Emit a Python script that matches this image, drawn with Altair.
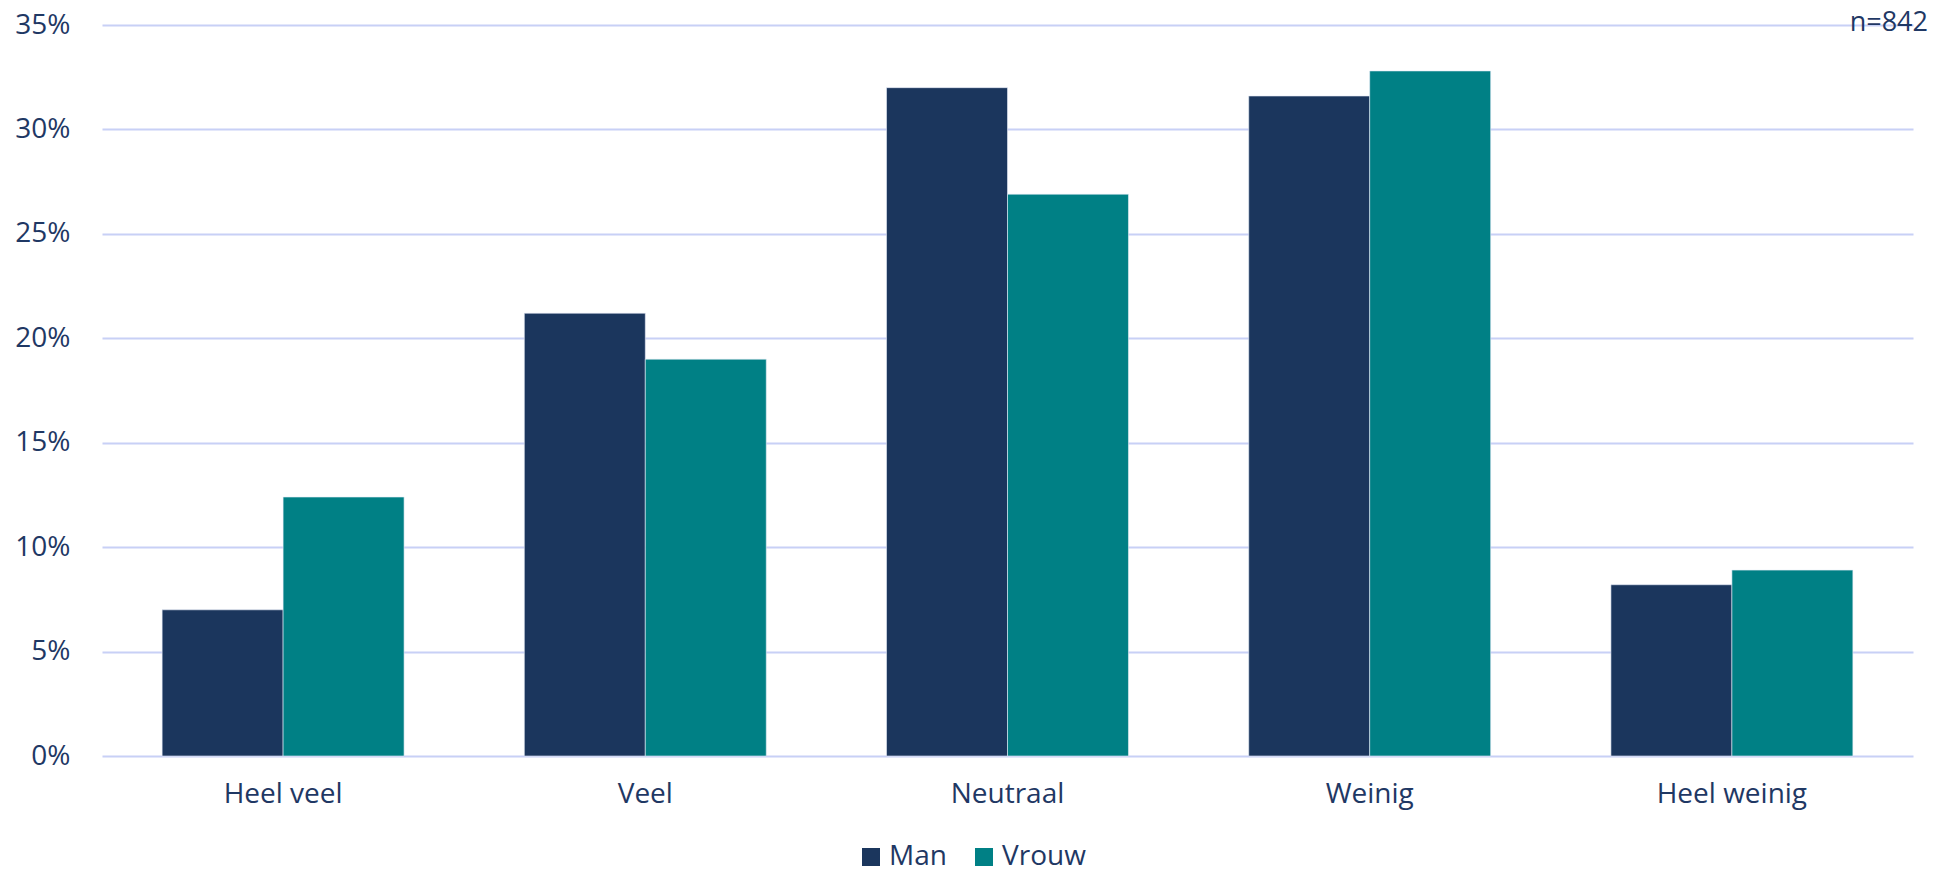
import altair as alt
import pandas as pd

categories = ["Heel veel", "Veel", "Neutraal", "Weinig", "Heel weinig"]
series = ["Man", "Vrouw"]
man = [7.0, 21.2, 32.0, 31.6, 8.2]
vrouw = [12.4, 19.0, 26.9, 32.8, 8.9]
colors = ["#1B365D", "#008085"]
y_ticks = [0, 5, 10, 15, 20, 25, 30, 35]
note = "n=842"

rows = []
for c, m, v in zip(categories, man, vrouw):
    rows.append({"cat": c, "serie": "Man", "val": m / 100})
    rows.append({"cat": c, "serie": "Vrouw", "val": v / 100})
df = pd.DataFrame(rows)

FONT = "Open Sans"
TXT = "#1F3864"
GRID = "#C8D0F6"

bars = alt.Chart(df).mark_bar(stroke="#E8ECF8", strokeWidth=0.6).encode(
    x=alt.X("cat:N", sort=categories, title=None,
            scale=alt.Scale(paddingInner=0.332, paddingOuter=0.166),
            axis=alt.Axis(labelAngle=0, domain=False, ticks=False, labelPadding=24,
                          labelFontSize=28, labelColor=TXT, labelFont=FONT, grid=False)),
    xOffset=alt.XOffset("serie:N", sort=series),
    y=alt.Y("val:Q", title=None,
            scale=alt.Scale(domain=[0, 0.35], nice=False),
            axis=alt.Axis(values=[t / 100 for t in y_ticks], format=".0%", domain=False,
                          ticks=False, labelPadding=32, labelFontSize=28, labelColor=TXT,
                          labelFont=FONT, gridColor=GRID, gridWidth=2)),
    color=alt.Color("serie:N", sort=series,
                    scale=alt.Scale(domain=series, range=colors),
                    legend=alt.Legend(title=None, orient="none", legendX=755, legendY=818,
                                      direction="horizontal", symbolType="square",
                                      symbolSize=324, symbolStrokeWidth=0, symbolOpacity=1,
                                      labelFontSize=28, labelFont=FONT, labelColor=TXT,
                                      labelOffset=4, columnPadding=23, padding=0)),
)

note_df = pd.DataFrame({"t": [note]})
label = alt.Chart(note_df).mark_text(align="right", baseline="alphabetic", fontSize=27,
                                     font=FONT, color=TXT).encode(
    text="t:N", x=alt.value(1826), y=alt.value(6))

chart = alt.layer(bars, label).properties(
    width=1811, height=731,
    autosize=alt.AutoSizeParams(type="none"),
    padding={"left": 94, "top": 17, "right": 29, "bottom": 110},
).configure(background="white").configure_view(stroke=None)

chart.save("out.html", embed_options={"renderer": "svg", "actions": False})
